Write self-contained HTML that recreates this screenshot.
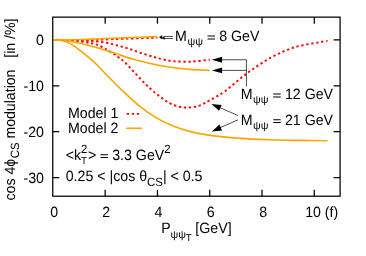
<!DOCTYPE html>
<html><head><meta charset="utf-8"><title>plot</title>
<style>
html,body{margin:0;padding:0;background:#fff;}
svg{display:block;will-change:transform;}
text{text-rendering:geometricPrecision;font-family:"Liberation Sans",sans-serif;font-size:14.2px;fill:#000;}
.o{fill:none;stroke:#ffa500;stroke-width:1.65;stroke-linecap:butt;}
.r{fill:none;stroke:#ff0000;stroke-width:1.9;stroke-dasharray:2.3 2.7;stroke-dashoffset:2.4;}
.ax{fill:none;stroke:#000;stroke-width:1.25;}
.ar{fill:none;stroke:#000;stroke-width:0.7;}
.sub{font-size:11.4px;}
.psi{font-size:9.9px;}
.ah{fill:#000;stroke:none;}
.sub2{font-size:9.8px;}
</style></head><body>
<svg width="366" height="256" viewBox="0 0 366 256">
<rect x="0" y="0" width="366" height="256" fill="#fff"/>
<rect class="ax" x="52.75" y="17.15" width="287.35" height="179.05"/>
<path class="ax" d="M105.18,196.20 v-6.5 M105.18,17.15 v6.5 M157.46,196.20 v-6.5 M157.46,17.15 v6.5 M209.74,196.20 v-6.5 M209.74,17.15 v6.5 M262.02,196.20 v-6.5 M262.02,17.15 v6.5 M314.30,196.20 v-6.5 M314.30,17.15 v6.5 M52.75,39.90 h6.5 M340.10,39.90 h-6.5 M52.75,85.77 h6.5 M340.10,85.77 h-6.5 M52.75,131.64 h6.5 M340.10,131.64 h-6.5 M52.75,177.51 h6.5 M340.10,177.51 h-6.5 "/>
<path class="r" d="M53.60,39.80 C55.67,39.83 61.10,39.93 66.00,40.00 C70.90,40.07 77.33,40.25 83.00,40.20 C88.67,40.15 93.00,39.95 100.00,39.70 C107.00,39.45 115.45,39.02 125.00,38.70 C134.55,38.38 151.92,37.95 157.30,37.80"/>
<path class="r" d="M53.60,39.80 C56.33,39.83 64.97,39.83 70.00,40.00 C75.03,40.17 79.77,40.58 83.80,40.80 C87.83,41.02 90.78,41.05 94.20,41.30 C97.62,41.55 100.97,41.73 104.30,42.30 C107.63,42.87 110.95,43.88 114.20,44.70 C117.45,45.52 120.57,46.25 123.80,47.20 C127.03,48.15 130.33,49.28 133.60,50.40 C136.87,51.52 140.12,52.83 143.40,53.90 C146.68,54.97 150.20,55.92 153.30,56.80 C156.40,57.68 158.58,58.47 162.00,59.20 C165.42,59.93 168.87,60.80 173.80,61.20 C178.73,61.60 185.60,61.87 191.60,61.60 C197.60,61.33 206.77,59.93 209.80,59.60"/>
<path class="r" d="M53.60,39.80 C56.33,39.87 64.77,39.83 70.00,40.20 C75.23,40.57 81.05,41.40 85.00,42.00 C88.95,42.60 91.43,43.25 93.70,43.80 C95.97,44.35 97.02,44.65 98.60,45.30 C100.18,45.95 101.75,46.95 103.20,47.70 C104.65,48.45 105.07,48.43 107.30,49.80 C109.53,51.17 113.77,53.90 116.60,55.90 C119.43,57.90 121.55,59.28 124.30,61.80 C127.05,64.32 130.18,67.92 133.10,71.00 C136.02,74.08 139.05,77.47 141.80,80.30 C144.55,83.13 147.00,85.62 149.60,88.00 C152.20,90.38 154.85,92.57 157.40,94.60 C159.95,96.63 162.47,98.58 164.90,100.20 C167.33,101.82 169.48,103.20 172.00,104.30 C174.52,105.40 177.50,106.25 180.00,106.80 C182.50,107.35 184.50,107.60 187.00,107.60 C189.50,107.60 192.50,107.32 195.00,106.80 C197.50,106.28 199.50,105.60 202.00,104.50 C204.50,103.40 206.17,102.42 210.00,100.20 C213.83,97.98 218.83,95.68 225.00,91.20 C231.17,86.72 239.43,78.85 247.00,73.30 C254.57,67.75 262.58,62.20 270.40,57.90 C278.22,53.60 286.07,50.05 293.90,47.50 C301.73,44.95 311.78,43.70 317.40,42.60 C323.02,41.50 325.90,41.18 327.60,40.90"/>
<path class="o" d="M53.60,39.80 C55.67,39.80 61.10,39.85 66.00,39.80 C70.90,39.75 77.33,39.68 83.00,39.50 C88.67,39.32 93.00,39.00 100.00,38.70 C107.00,38.40 115.45,38.05 125.00,37.70 C134.55,37.35 151.92,36.78 157.30,36.60"/>
<path class="o" d="M53.60,39.80 C55.73,39.95 62.00,40.12 66.40,40.70 C70.80,41.28 74.40,42.00 80.00,43.30 C85.60,44.60 93.93,46.75 100.00,48.50 C106.07,50.25 110.93,52.05 116.40,53.80 C121.87,55.55 127.33,57.43 132.80,59.00 C138.27,60.57 144.67,62.12 149.20,63.20 C153.73,64.28 155.70,64.73 160.00,65.50 C164.30,66.27 170.00,67.15 175.00,67.80 C180.00,68.45 184.25,68.97 190.00,69.40 C195.75,69.83 206.25,70.23 209.50,70.40"/>
<path class="o" d="M53.60,39.80 C54.67,39.88 57.87,39.97 60.00,40.30 C62.13,40.63 63.97,40.78 66.40,41.80 C68.83,42.82 71.87,44.60 74.60,46.40 C77.33,48.20 80.07,50.45 82.80,52.60 C85.53,54.75 88.43,57.07 91.00,59.30 C93.57,61.53 95.63,63.42 98.20,66.00 C100.77,68.58 102.30,70.57 106.40,74.75 C110.50,78.93 117.33,85.91 122.80,91.10 C128.27,96.29 133.73,101.52 139.20,105.90 C144.67,110.28 150.13,114.12 155.60,117.40 C161.07,120.68 166.53,123.32 172.00,125.60 C177.47,127.88 182.07,129.47 188.40,131.10 C194.73,132.73 201.40,134.18 210.00,135.40 C218.60,136.62 230.00,137.67 240.00,138.40 C250.00,139.13 260.00,139.47 270.00,139.80 C280.00,140.13 290.40,140.25 300.00,140.40 C309.60,140.55 323.00,140.65 327.60,140.70"/>
<!-- y tick labels -->
<text transform="translate(44,44.9) scale(1,1.05)" text-anchor="end">0</text>
<text transform="translate(44,90.8) scale(1,1.05)" text-anchor="end">-10</text>
<text transform="translate(44,136.7) scale(1,1.05)" text-anchor="end">-20</text>
<text transform="translate(44,182.5) scale(1,1.05)" text-anchor="end">-30</text>
<!-- x tick labels -->
<text transform="translate(54.3,216.5) scale(1,1.05)" text-anchor="middle">0</text>
<text transform="translate(106.2,216.5) scale(1,1.05)" text-anchor="middle">2</text>
<text transform="translate(158.4,216.5) scale(1,1.05)" text-anchor="middle">4</text>
<text transform="translate(210.8,216.5) scale(1,1.05)" text-anchor="middle">6</text>
<text transform="translate(263.3,216.5) scale(1,1.05)" text-anchor="middle">8</text>
<text transform="translate(321.7,216.5) scale(1,1.05)" text-anchor="middle">10 (f)</text>
<!-- axis labels -->
<text transform="translate(161.2,233.2) scale(1,1.05)">P</text><text class="psi" transform="translate(170.4,238.3) scale(1.1,1.05)">ψψ</text><text class="sub2" transform="translate(185.7,241.2) scale(1,1.05)">T</text><text transform="translate(195.3,233.2) scale(1,1.05)">[GeV]</text>
<text transform="translate(15,200.5) rotate(-90) scale(0.995,1.05)">cos 4ϕ<tspan class="sub" dy="3.5" dx="0.6">CS</tspan><tspan dy="-3.5"> modulation&#160;&#160; [in /%]</tspan></text>
<!-- legend -->
<text transform="translate(68,118.3) scale(1,1.05)">Model 1</text>
<text transform="translate(68,132.8) scale(1,1.05)">Model 2</text>
<path class="r" d="M126.8,113.9 h14" style="stroke-dashoffset:0"/>
<path class="o" d="M126.4,128.3 h15.6"/>
<!-- annotations -->
<text transform="translate(65.7,159.6) scale(1,1.05)">&lt;k<tspan class="sub" dy="-6.6">2</tspan><tspan class="sub2" dy="11.1" dx="-6.4">T</tspan><tspan dy="-4.5" dx="1">&gt;</tspan></text><path class="ah" d="M100.40,154.15 h7.5 v1.05 h-7.5 Z M100.40,157.00 h7.5 v1.05 h-7.5 Z"/><text transform="translate(112.2,159.6) scale(1,1.05)">3.3 GeV<tspan class="sub" dy="-6.6">2</tspan></text>
<text transform="translate(65.7,181.4) scale(1,1.05)">0.25 &lt; |cos θ<tspan class="sub" dy="4.6">CS</tspan><tspan dy="-4.6">| &lt; 0.5</tspan></text>
<text transform="translate(175.1,41.0) scale(1,1.05)">M</text><text class="psi" transform="translate(187.40,45.00) scale(1.1,1.05)">ψψ</text><path class="ah" d="M207.50,35.55 h7.5 v1.05 h-7.5 Z M207.50,38.40 h7.5 v1.05 h-7.5 Z"/><text transform="translate(219.24,41.0) scale(1,1.05)">8 GeV</text>
<text transform="translate(240.8,99.0) scale(1,1.05)">M</text><text class="psi" transform="translate(253.10,103.00) scale(1.1,1.05)">ψψ</text><path class="ah" d="M273.20,93.55 h7.5 v1.05 h-7.5 Z M273.20,96.40 h7.5 v1.05 h-7.5 Z"/><text transform="translate(284.94,99.0) scale(1,1.05)">12 GeV</text>
<text transform="translate(240.8,124.6) scale(1,1.05)">M</text><text class="psi" transform="translate(253.10,128.60) scale(1.1,1.05)">ψψ</text><path class="ah" d="M273.20,119.15 h7.5 v1.05 h-7.5 Z M273.20,122.00 h7.5 v1.05 h-7.5 Z"/><text transform="translate(284.94,124.6) scale(1,1.05)">21 GeV</text>
<!-- arrows -->
<path class="ar" d="M221,59.75 H246.4 V86.5 M221,70.4 H246.4"/>
<path class="ah" d="M211.80,59.75 L222.10,62.70 L222.10,56.80 Z"/>
<path class="ah" d="M211.80,70.40 L222.10,73.35 L222.10,67.45 Z"/>
<path class="ar" d="M238,115.6 L216.70,106.20 M238,119.8 L216.30,129.40"/>
<path class="ah" d="M211.40,103.90 L219.08,110.77 L221.66,104.92 Z"/>
<path class="ah" d="M211.80,131.50 L222.05,130.43 L219.44,124.58 Z"/>
<path class="ar" d="M163.5,36.45 H172.9 M163.5,38.5 H172.9" style="stroke-width:0.7"/>
<path class="ah" d="M159,36.9 L162.2,35.3 L162.2,38.3 Z M161.3,38.0 L164.6,36.2 L164.6,39.8 Z M159.2,37.6 L162,36.4 L162,39.2 Z"/>
</svg>
</body></html>
